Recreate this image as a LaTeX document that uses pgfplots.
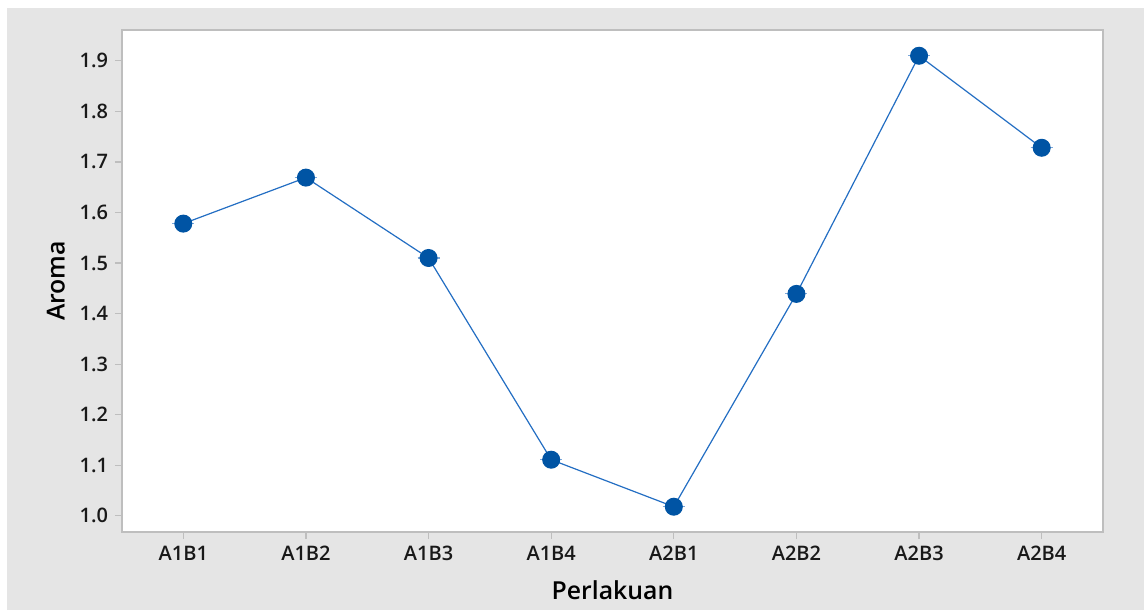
\documentclass[border=0pt]{standalone}
\usepackage{fontspec}
\setmainfont{Open Sans}
\IfFontExistsTF{Open Sans SemiBold}{\newfontfamily\semib{Open Sans SemiBold}}{%
  \IfFontExistsTF{Open Sans Semibold}{\newfontfamily\semib{Open Sans Semibold}}{%
    \newfontfamily\semib{Open Sans}[UprightFont={* Bold}]}}
\usepackage{pgfplots}
\pgfplotsset{compat=1.18}
\definecolor{bggray}{RGB}{229,229,229}
\definecolor{axgray}{RGB}{190,190,190}
\definecolor{ptblue}{RGB}{0,84,164}
\definecolor{lnblue}{RGB}{35,110,195}
\begin{document}
\begin{tikzpicture}[x=1pt,y=1pt]
\fill[white] (0,0) rectangle (572,305);
\fill[bggray] (3.5,0) rectangle (572,301);
\begin{axis}[
  at={(61pt,39pt)}, anchor=south west,
  scale only axis, width=490.5pt, height=251pt,
  xmin=-0.5, xmax=7.5, ymin=0.968, ymax=1.961,
  axis background/.style={fill=white},
  axis line style={axgray, line width=0.6pt},
  xtick={0,1,2,3,4,5,6,7},
  xticklabels={A1B1,A1B2,A1B3,A1B4,A2B1,A2B2,A2B3,A2B4},
  ytick={1.0,1.1,1.2,1.3,1.4,1.5,1.6,1.7,1.8,1.9},
  yticklabel style={/pgf/number format/.cd, fixed, fixed zerofill, precision=1},
  /pgf/number format/assume math mode=true,
  tick align=outside, major tick length=3.5pt,
  tick style={axgray, line width=0.6pt},
  xtick pos=bottom, ytick pos=left,
  ticklabel style={font=\semib\fontsize{10}{12}\selectfont, text=black!90},
  xlabel={Perlakuan}, ylabel={Aroma},
  xlabel style={font=\semib\fontsize{12.4}{15}\selectfont, at={(axis description cs:0.5,-0.1155)}, anchor=center},
  ylabel style={font=\semib\fontsize{12.4}{15}\selectfont, at={(axis description cs:-0.0673,0.5)}, anchor=center, rotate=0},
  clip=false,
]
\addplot[lnblue, line width=0.6pt, mark=*, mark size=4.2pt,
  mark options={ptblue, fill=ptblue},
  error bars/.cd, y dir=both, y explicit,
  error mark options={rotate=90, lnblue!60, line width=0.6pt, mark size=5.5pt}]
  coordinates {
  (0,1.578) +- (0,0)
  (1,1.669) +- (0,0)
  (2,1.510) +- (0,0)
  (3,1.111) +- (0,0)
  (4,1.018) +- (0,0)
  (5,1.439) +- (0,0)
  (6,1.910) +- (0,0)
  (7,1.728) +- (0,0)
};
\end{axis}
\end{tikzpicture}
\end{document}
